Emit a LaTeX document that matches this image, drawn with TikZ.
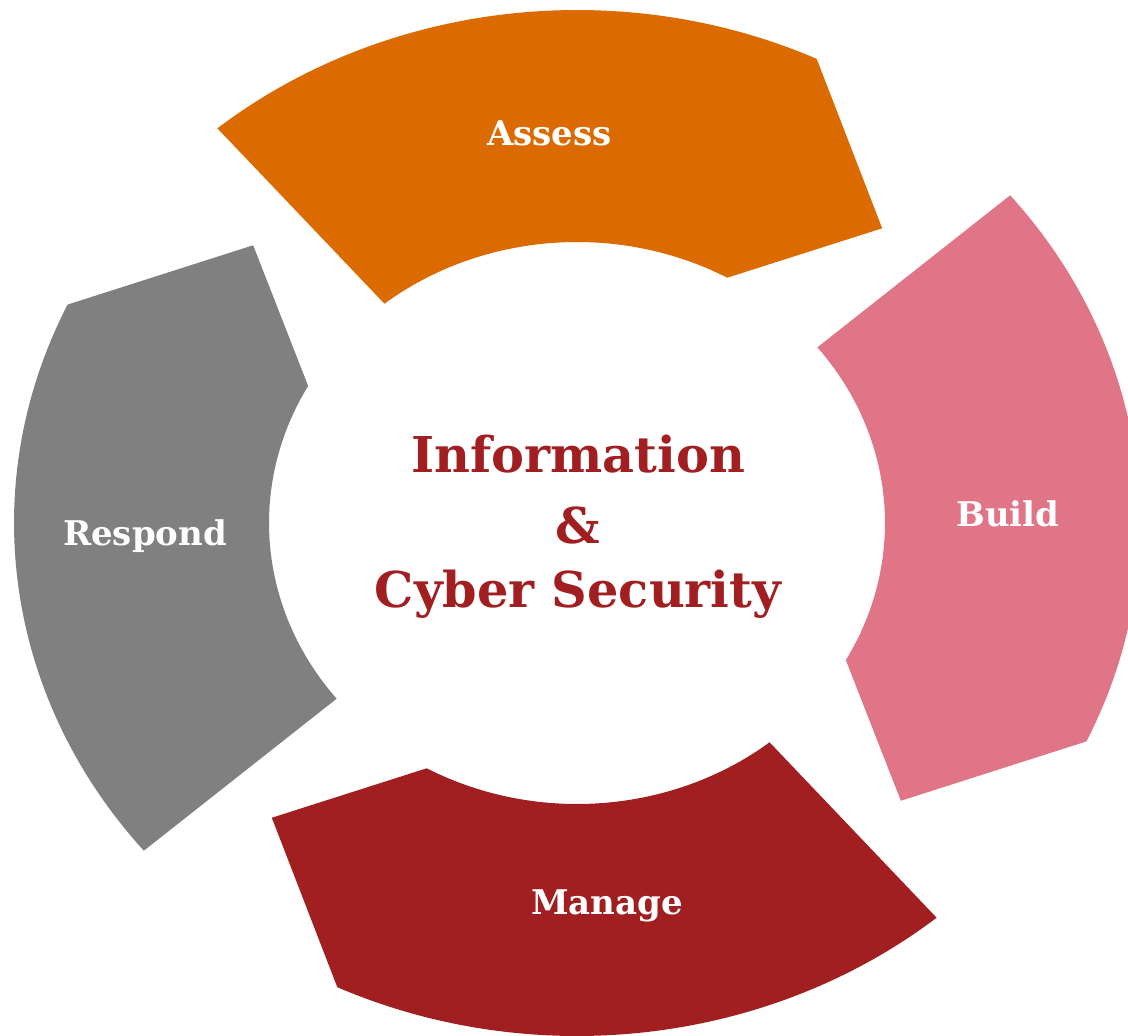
\documentclass[tikz,border=0pt]{standalone}
\usepackage{fontspec}
\setmainfont{DejaVu Serif}
\definecolor{assesscol}{HTML}{DB6A00}
\definecolor{buildcol}{HTML}{E07587}
\definecolor{managecol}{HTML}{A11F21}
\definecolor{respondcol}{HTML}{808080}
\tikzset{
  seglabel/.style={text=white, font=\fontsize{17}{20}\selectfont\bfseries, anchor=base},
  centretext/.style={text=managecol, font=\fontsize{24.7}{30}\selectfont\bfseries, anchor=base},
}
\begin{document}
\begin{tikzpicture}[x=0.5pt,y=0.5pt]
\useasboundingbox (-577,-512) rectangle (551,523);
% four arc segments, each turned 90 degrees from the last
\foreach \col/\off in {assesscol/0, buildcol/-90, managecol/-180, respondcol/-270}{
  \pgfmathsetmacro{\oa}{129.7+\off}
  \pgfmathsetmacro{\ob}{64.8+\off}
  \pgfmathsetmacro{\tip}{46.7+\off}
  \pgfmathsetmacro{\ia}{60.8+\off}
  \pgfmathsetmacro{\ib}{128.7+\off}
  \fill[\col] (\oa:563 and 513) arc[start angle=\oa, end angle=\ob, x radius=563, y radius=513]
    -- (\tip:445 and 405) -- (\ia:308 and 281)
    arc[start angle=\ia, end angle=\ib, x radius=308, y radius=281] -- cycle;
}
\node[seglabel] (assess) at (-27.5,378) {Assess};
\node[seglabel] (build) at (431,-3) {Build};
\node[seglabel] (manage) at (30,-391) {Manage};
\node[seglabel] (respond) at (-432,-22) {Respond};
\node[centretext] (info) at (1,51) {Information};
\node[centretext] (amp) at (1,-20) {\&};
\node[centretext] (cyber) at (1,-84) {Cyber Security};
\end{tikzpicture}
\end{document}
